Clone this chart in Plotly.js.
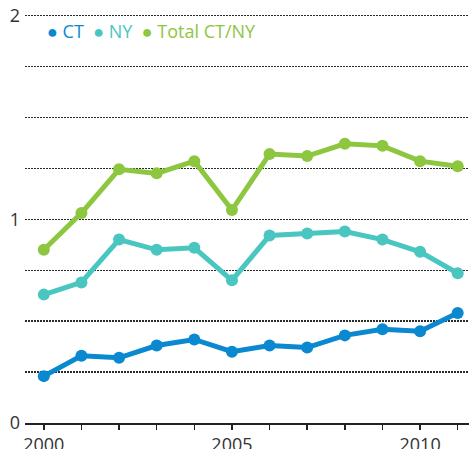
<!DOCTYPE html>
<html><head><meta charset="utf-8">
<script src="https://cdn.plot.ly/plotly-3.0.1.min.js"></script>
<style>html,body{margin:0;padding:0;background:#fff}#chart{width:469px;height:449px}</style>
</head><body><div id="chart"></div>
<script>
const years = [2000,2001,2002,2003,2004,2005,2006,2007,2008,2009,2010,2011];
const ct    = [0.23,0.33,0.32,0.38,0.41,0.35,0.38,0.37,0.43,0.46,0.45,0.54];
const ny    = [0.63,0.69,0.90,0.85,0.86,0.70,0.92,0.93,0.94,0.90,0.84,0.735];
const total = [0.85,1.03,1.245,1.225,1.285,1.045,1.32,1.31,1.37,1.36,1.285,1.26];
const seriesNames = ['CT','NY','Total CT/NY'];
const seriesColors = ['#0a88d0','#4ac6c1','#8dc63f'];
const xTickLabels = ['2000','','','','','2005','','','','','2010',''];
const yTickVals = [0,0.25,0.5,0.75,1,1.25,1.5,1.75,2];
const yTickLabels = ['0','','','','1','','','','2'];

const seriesData = [ct, ny, total];
const traces = seriesData.map((ys,i)=>({
  x: years, y: ys, type:'scatter', mode:'lines+markers',
  line:{color:seriesColors[i], width:5},
  marker:{color:seriesColors[i], size:12},
  showlegend:false, hoverinfo:'skip', cliponaxis:false
})).reverse();

const legendText = seriesNames.map((n,i)=>
  `<span style="color:${seriesColors[i]}">●</span><span style="color:${seriesColors[i]}"> ${n}</span>`
).join('  ');

const layout = {
  width:469, height:449,
  margin:{l:25, r:0, t:13, b:26},
  paper_bgcolor:'#fff', plot_bgcolor:'#fff',
  font:{family:'Open Sans, sans-serif', size:18, color:'#333'},
  xaxis:{
    range:[1999.5,2011.3], tickvals:years, ticktext:xTickLabels,
    showgrid:false, zeroline:false, showline:true, linecolor:'#222', linewidth:1.5,
    ticks:'outside', ticklen:5, tickcolor:'#222', tickwidth:1.5,
    tickfont:{size:18, color:'#333'}
  },
  yaxis:{
    range:[0,2.012], tickvals:yTickVals, ticktext:yTickLabels,
    showgrid:true, gridcolor:'#2a2a2a', gridwidth:1.3, griddash:'2px,1px',
    zeroline:false, showline:false, ticks:'', ticklabelstandoff:4,
    tickfont:{size:18, color:'#333'}
  },
  annotations:[{
    xref:'paper', yref:'paper', x:0.045, y:0.955, xanchor:'left', yanchor:'middle',
    text:legendText, showarrow:false, font:{size:18}
  }]
};
Plotly.newPlot('chart', traces, layout, {staticPlot:true});
</script></body></html>
